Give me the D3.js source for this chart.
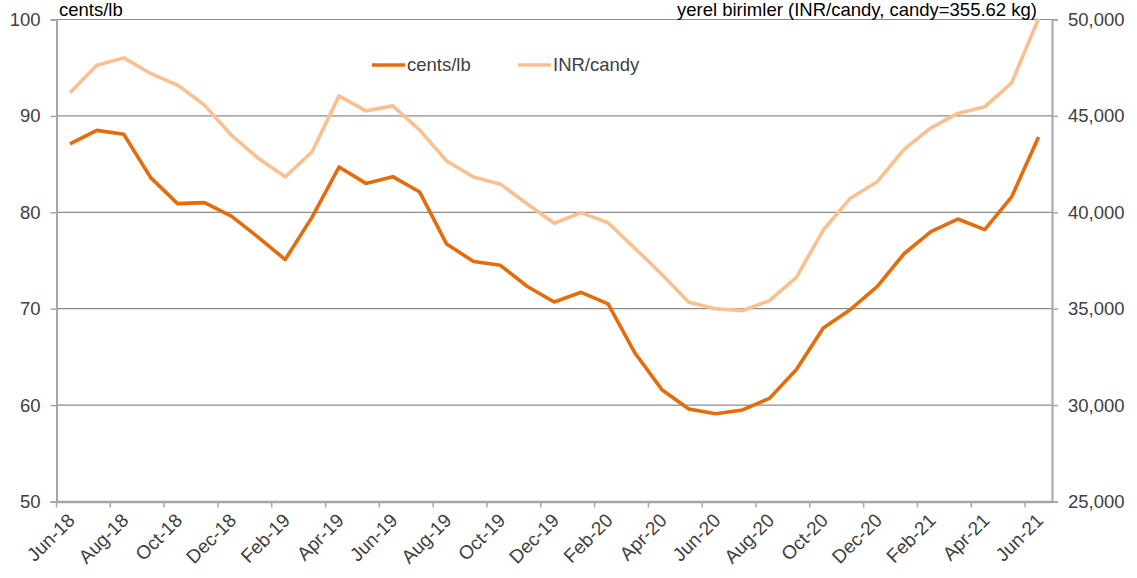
<!DOCTYPE html>
<html>
<head>
<script src="https://d3js.org/d3.v7.min.js"></script>
<style>
  body { margin: 0; background: #fff; }
  text { font-family: "Liberation Sans", Arial, sans-serif; }
</style>
</head>
<body>
<div id="chart"></div>
<script>
var months = ["Jun-18","Jul-18","Aug-18","Sep-18","Oct-18","Nov-18","Dec-18","Jan-19","Feb-19","Mar-19",
  "Apr-19","May-19","Jun-19","Jul-19","Aug-19","Sep-19","Oct-19","Nov-19","Dec-19","Jan-20",
  "Feb-20","Mar-20","Apr-20","May-20","Jun-20","Jul-20","Aug-20","Sep-20","Oct-20","Nov-20",
  "Dec-20","Jan-21","Feb-21","Mar-21","Apr-21","May-21","Jun-21"];

var centsLb = [87.1, 88.5, 88.1, 83.6, 80.9, 81.0, 79.6, 77.4, 75.1, 79.5,
  84.7, 83.0, 83.7, 82.1, 76.7, 74.9, 74.5, 72.3, 70.7, 71.7,
  70.5, 65.4, 61.6, 59.6, 59.1, 59.5, 60.7, 63.7, 68.0, 69.9,
  72.3, 75.7, 78.0, 79.3, 78.2, 81.6, 87.8];

var inrCandy = [46200, 47630, 48010, 47200, 46600, 45560, 44000, 42800, 41840, 43140,
  46040, 45260, 45520, 44260, 42660, 41830, 41460, 40430, 39430, 39980,
  39460, 38130, 36780, 35330, 35000, 34900, 35420, 36630, 39080, 40720,
  41580, 43260, 44380, 45130, 45470, 46710, 50050];

var leftTicks = [50, 60, 70, 80, 90, 100];
var rightTicks = [25000, 30000, 35000, 40000, 45000, 50000];
var xLabels = months.filter(function(d, i) { return i % 2 === 0; });

var seriesNames = ["cents/lb", "INR/candy"];
var colors = ["#E46C0A", "#FAC090"];

var width = 1137, height = 578;
var mLeft = 56.5, mRight = 1052, mTop = 19.5, mBottom = 501.5;

var svg = d3.select("#chart").append("svg")
  .attr("width", width).attr("height", height);

var x = d3.scaleBand().domain(months).range([mLeft, mRight]).padding(0);
var yL = d3.scaleLinear().domain([50, 100]).range([mBottom, mTop]);
var yR = d3.scaleLinear().domain([25000, 50000]).range([mBottom, mTop]);

// gridlines
svg.append("g").selectAll("line")
  .data(leftTicks.slice(1))
  .enter().append("line")
  .attr("x1", mLeft).attr("x2", mRight)
  .attr("y1", function(d) { return yL(d); })
  .attr("y2", function(d) { return yL(d); })
  .attr("stroke", "#8c8c8c").attr("stroke-width", 1.2);

// left axis
var gL = svg.append("g").attr("transform", "translate(" + mLeft + ",0)")
  .call(d3.axisLeft(yL).tickValues(leftTicks).tickSize(6).tickPadding(10));
gL.select(".domain").attr("stroke", "#a6a6a6").attr("stroke-width", 2);
gL.selectAll(".tick line").attr("stroke", "#a6a6a6").attr("stroke-width", 1.5);
gL.selectAll(".tick text").attr("font-size", 18.5).attr("fill", "#404040");

// right axis
var gR = svg.append("g").attr("transform", "translate(" + mRight + ",0)")
  .call(d3.axisRight(yR).tickValues(rightTicks).tickSize(6).tickPadding(10)
    .tickFormat(d3.format(",")));
gR.select(".domain").attr("stroke", "#a6a6a6").attr("stroke-width", 2);
gR.selectAll(".tick line").attr("stroke", "#a6a6a6").attr("stroke-width", 1.5);
gR.selectAll(".tick text").attr("font-size", 18.5).attr("fill", "#404040");

// bottom axis: ticks on band edges, labels at band centres
var gB = svg.append("g").attr("transform", "translate(0," + mBottom + ")")
  .call(d3.axisBottom(x).tickValues(xLabels).tickSize(6).tickSizeOuter(0));
gB.select(".domain").attr("stroke", "#a6a6a6").attr("stroke-width", 2.5);
gB.selectAll(".tick line")
  .attr("transform", "translate(" + (-x.bandwidth() / 2) + ",0)")
  .attr("stroke", "#a6a6a6").attr("stroke-width", 1.5);
gB.selectAll(".tick text")
  .attr("font-size", 19).attr("fill", "#404040")
  .attr("text-anchor", "end")
  .attr("dy", null).attr("y", null)
  .attr("transform", "translate(6,20) rotate(-45)");

// lines
var lineL = d3.line()
  .x(function(d, i) { return x(months[i]) + x.bandwidth() / 2; })
  .y(function(d) { return yL(d); });
var lineR = d3.line()
  .x(function(d, i) { return x(months[i]) + x.bandwidth() / 2; })
  .y(function(d) { return yR(d); });

svg.append("path").datum(inrCandy)
  .attr("d", lineR).attr("fill", "none")
  .attr("stroke", colors[1]).attr("stroke-width", 3.6)
  .attr("stroke-linejoin", "round");
svg.append("path").datum(centsLb)
  .attr("d", lineL).attr("fill", "none")
  .attr("stroke", colors[0]).attr("stroke-width", 3.6)
  .attr("stroke-linejoin", "round");

// axis titles
svg.append("text").attr("x", 59).attr("y", 16)
  .attr("font-size", 18.5).attr("fill", "#000").text("cents/lb");
svg.append("text").attr("x", 1037).attr("y", 16)
  .attr("text-anchor", "end")
  .attr("font-size", 18.5).attr("fill", "#000")
  .text("yerel birimler (INR/candy, candy=355.62 kg)");

// legend
var legend = svg.append("g");
var legX = [372, 518];
seriesNames.forEach(function(name, i) {
  legend.append("line")
    .attr("x1", legX[i]).attr("x2", legX[i] + 33)
    .attr("y1", 65).attr("y2", 65)
    .attr("stroke", colors[i]).attr("stroke-width", 3.6);
  legend.append("text")
    .attr("x", legX[i] + 35).attr("y", 71)
    .attr("font-size", 18.5).attr("fill", "#404040").text(name);
});
</script>
</body>
</html>
